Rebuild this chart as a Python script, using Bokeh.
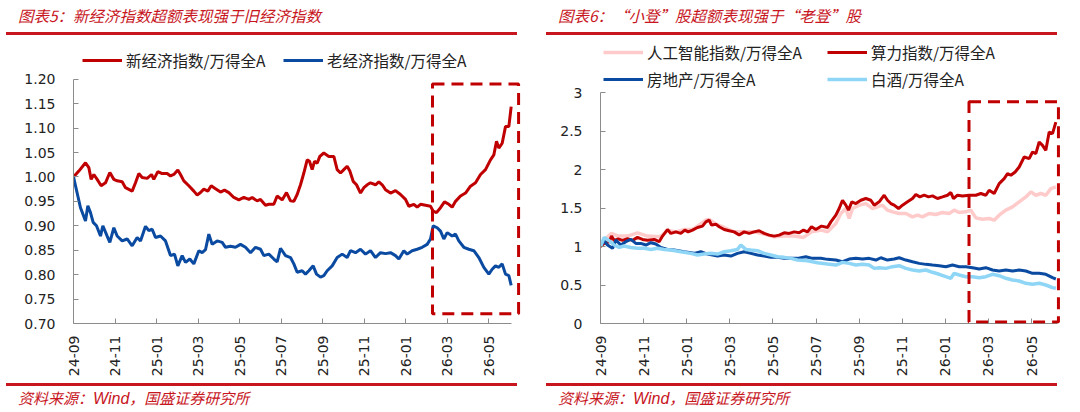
import math
from bokeh.plotting import figure
from bokeh.models import (Range1d, FixedTicker, NumeralTickFormatter, BoxAnnotation,
                          Legend, LegendItem, Div)
from bokeh.layouts import row, column
from bokeh.embed import file_html
from bokeh.resources import INLINE

# ---------------- data (x = months since 2024-09) ----------------
x_tick_pos = [0, 2, 4, 6, 8, 10, 12, 14, 16, 18, 20]
x_tick_labels = ["24-09", "24-11", "25-01", "25-03", "25-05", "25-07",
                 "25-09", "25-11", "26-01", "26-03", "26-05"]

title5 = "图表5：新经济指数超额表现强于旧经济指数"
title6 = "图表6：“小登”股超额表现强于“老登”股"
source_parts = ["资料来源：", "Wind", "，国盛证券研究所"]

# Chart 5
y5_ticks = [0.70, 0.75, 0.80, 0.85, 0.90, 0.95, 1.00, 1.05, 1.10, 1.15, 1.20]
new_econ_m = [0, 0.257, 0.578, 0.739, 0.851, 0.980, 1.140, 1.333, 1.542, 1.751,
              1.944, 2.104, 2.345, 2.506, 2.827, 2.988, 3.149, 3.309, 3.550, 3.759,
              3.871, 4.064, 4.273, 4.514, 4.675, 4.835, 5.028, 5.156, 5.317, 5.558,
              5.799, 5.960, 6.120, 6.281, 6.474, 6.635, 6.843, 7.084, 7.277, 7.486,
              7.727, 7.968, 8.209, 8.450, 8.610, 8.851, 9.012, 9.253, 9.414, 9.655,
              9.815, 10.056, 10.265, 10.458,
              10.619, 10.779, 10.940, 11.101, 11.261, 11.374, 11.502, 11.615, 11.743, 11.872,
              12.064, 12.305, 12.546, 12.707, 12.868, 13.028, 13.189, 13.317, 13.478, 13.639,
              13.831, 13.992, 14.153, 14.313, 14.554, 14.715, 14.876, 15.036, 15.277, 15.518,
              15.759, 16.000, 16.161, 16.402, 16.563, 16.723, 16.964, 17.205, 17.334, 17.494,
              17.687, 17.880, 18.088, 18.249, 18.410, 18.651, 18.892, 19.133, 19.374, 19.615,
              19.856, 20.096, 20.257, 20.386, 20.498, 20.659, 20.819, 20.980, 21.093]
new_econ_v = [1.000, 1.012, 1.029, 1.019, 0.995, 1.005, 0.995, 0.982, 0.988, 1.009,
              0.995, 0.992, 0.990, 0.978, 0.971, 0.988, 1.007, 0.999, 0.997, 1.005,
              0.995, 1.011, 1.007, 1.007, 1.002, 1.005, 1.014, 1.005, 0.992, 0.982,
              0.971, 0.963, 0.968, 0.975, 0.971, 0.982, 0.976, 0.969, 0.973, 0.968,
              0.958, 0.953, 0.958, 0.954, 0.958, 0.951, 0.954, 0.942, 0.944, 0.944,
              0.961, 0.953, 0.968, 0.951,
              0.950, 0.964, 0.984, 1.008, 1.035, 1.032, 1.015, 1.032, 1.028, 1.042,
              1.049, 1.042, 1.042, 1.015, 1.008, 1.015, 1.022, 1.012, 0.991, 0.984,
              0.967, 0.978, 0.984, 0.988, 0.984, 0.990, 0.984, 0.974, 0.967, 0.972,
              0.964, 0.954, 0.940, 0.944, 0.938, 0.944, 0.942, 0.940, 0.930, 0.927,
              0.937, 0.949, 0.944, 0.938, 0.950, 0.961, 0.967, 0.981, 0.988, 1.005,
              1.015, 1.035, 1.045, 1.073, 1.059, 1.069, 1.103, 1.103, 1.144]

old_econ_m = [0, 0.209, 0.337, 0.578, 0.691, 0.819, 0.948, 1.108, 1.301, 1.414,
              1.622, 1.751, 1.944, 2.104, 2.345, 2.586, 2.827, 3.068, 3.229, 3.470,
              3.630, 3.791, 3.952, 4.193, 4.434, 4.675, 4.867, 5.028, 5.237, 5.398,
              5.606, 5.799, 6.040, 6.201, 6.361, 6.522, 6.683, 6.924, 7.165, 7.325,
              7.566, 7.807, 8.048, 8.289, 8.530, 8.771, 9.012, 9.173, 9.414, 9.655,
              9.815, 9.976, 10.217, 10.458,
              10.619, 10.779, 11.020, 11.181, 11.342, 11.550, 11.711, 11.904, 12.064, 12.225,
              12.466, 12.707, 12.948, 13.189, 13.350, 13.590, 13.831, 14.072, 14.313, 14.554,
              14.795, 15.036, 15.277, 15.518, 15.679, 15.920, 16.080, 16.321, 16.562, 16.803,
              17.044, 17.205, 17.334, 17.526, 17.687, 17.848, 18.008, 18.249, 18.410, 18.570,
              18.811, 19.052, 19.293, 19.534, 19.775, 20.016, 20.177, 20.337, 20.498, 20.659,
              20.819, 20.980, 21.093]
old_econ_v = [1.000, 0.961, 0.937, 0.910, 0.941, 0.927, 0.907, 0.900, 0.879, 0.900,
              0.879, 0.866, 0.896, 0.879, 0.869, 0.873, 0.859, 0.876, 0.869, 0.899,
              0.890, 0.893, 0.876, 0.879, 0.869, 0.839, 0.842, 0.818, 0.839, 0.825,
              0.832, 0.822, 0.849, 0.845, 0.851, 0.883, 0.862, 0.869, 0.866, 0.856,
              0.858, 0.856, 0.862, 0.856, 0.845, 0.856, 0.852, 0.839, 0.842, 0.832,
              0.826, 0.854, 0.839, 0.835,
              0.822, 0.805, 0.808, 0.801, 0.808, 0.818, 0.801, 0.795, 0.798, 0.808,
              0.818, 0.835, 0.842, 0.835, 0.849, 0.845, 0.852, 0.842, 0.849, 0.835,
              0.845, 0.843, 0.845, 0.839, 0.832, 0.849, 0.842, 0.849, 0.852, 0.856,
              0.862, 0.873, 0.900, 0.896, 0.889, 0.873, 0.886, 0.879, 0.883, 0.869,
              0.856, 0.852, 0.849, 0.835, 0.815, 0.801, 0.811, 0.818, 0.815, 0.822,
              0.801, 0.798, 0.778]

# Chart 6
y6_ticks = [0, 0.5, 1, 1.5, 2, 2.5, 3]
ai_m = [0, 0.170, 0.511, 0.820, 1.253, 1.717, 2.181, 2.723, 2.877, 3.109,
        3.496, 3.914, 4.269, 4.501, 4.888, 5.043, 5.352, 5.739, 6.203, 6.667,
        7.131, 7.595, 8.059, 8.523, 8.987, 9.420, 9.792, 10.255, 10.534,
        10.921, 11.153, 11.385, 11.539, 11.694, 12.003, 12.313, 12.622, 12.854, 13.086,
        13.318, 13.550, 13.860, 14.169, 14.478, 14.710, 14.942, 15.252, 15.561, 15.870,
        16.180, 16.412, 16.644, 16.953, 17.185, 17.417, 17.727, 18.036, 18.268, 18.500,
        18.809, 19.119, 19.428, 19.738, 19.970, 20.201, 20.433, 20.665, 20.898, 21.130]
ai_v = [1.000, 1.083, 1.170, 1.135, 1.135, 1.178, 1.135, 1.127, 1.148, 1.213,
        1.190, 1.220, 1.220, 1.265, 1.343, 1.351, 1.290, 1.247, 1.190, 1.190,
        1.190, 1.161, 1.127, 1.135, 1.135, 1.118, 1.190, 1.213, 1.190,
        1.299, 1.428, 1.493, 1.364, 1.493, 1.537, 1.558, 1.493, 1.515, 1.537,
        1.472, 1.450, 1.428, 1.428, 1.385, 1.407, 1.385, 1.428, 1.415, 1.441,
        1.428, 1.472, 1.441, 1.450, 1.472, 1.372, 1.355, 1.364, 1.342, 1.407,
        1.472, 1.515, 1.580, 1.644, 1.709, 1.666, 1.688, 1.666, 1.752, 1.774]

compute_m = [0, 0.170, 0.402, 0.511, 0.634, 0.820, 1.021, 1.253, 1.485, 1.717,
             1.949, 2.181, 2.491, 2.723, 2.877, 3.109, 3.264, 3.496, 3.728, 3.914,
             4.068, 4.269, 4.501, 4.733, 4.888, 5.043, 5.151, 5.352, 5.507, 5.739,
             5.971, 6.203, 6.435, 6.667, 6.899, 7.131, 7.363, 7.595, 7.827, 8.059,
             8.291, 8.523, 8.755, 8.987, 9.219, 9.420, 9.606, 9.792, 9.992, 10.255,
             10.534,
             10.689, 10.921, 11.075, 11.230, 11.385, 11.508, 11.663, 11.849, 12.081, 12.313,
             12.545, 12.700, 12.932, 13.164, 13.318, 13.473, 13.628, 13.829, 14.014, 14.246,
             14.478, 14.633, 14.819, 15.020, 15.221, 15.406, 15.638, 15.870, 16.102, 16.257,
             16.381, 16.567, 16.799, 17.108, 17.417, 17.649, 17.881, 18.036, 18.268, 18.500,
             18.732, 18.887, 19.041, 19.242, 19.428, 19.660, 19.892, 20.047, 20.201, 20.356,
             20.511, 20.665, 20.820, 20.975, 21.130]
compute_v = [1.000, 1.040, 1.060, 1.135, 1.080, 1.100, 1.080, 1.100, 1.080, 1.118,
             1.092, 1.080, 1.092, 1.062, 1.135, 1.220, 1.170, 1.190, 1.170, 1.213,
             1.190, 1.213, 1.247, 1.265, 1.320, 1.343, 1.278, 1.290, 1.256, 1.220,
             1.204, 1.190, 1.148, 1.190, 1.170, 1.190, 1.204, 1.170, 1.148, 1.135,
             1.148, 1.178, 1.170, 1.190, 1.178, 1.213, 1.190, 1.256, 1.220, 1.265,
             1.247,
             1.320, 1.407, 1.493, 1.601, 1.537, 1.472, 1.580, 1.558, 1.601, 1.623,
             1.601, 1.537, 1.580, 1.666, 1.601, 1.558, 1.537, 1.493, 1.537, 1.580,
             1.623, 1.675, 1.644, 1.666, 1.644, 1.657, 1.623, 1.644, 1.666, 1.701,
             1.623, 1.666, 1.657, 1.666, 1.666, 1.688, 1.666, 1.731, 1.688, 1.817,
             1.882, 1.946, 1.925, 1.968, 2.033, 2.162, 2.141, 2.227, 2.206, 2.357,
             2.313, 2.249, 2.486, 2.465, 2.616]

realty_m = [0, 0.170, 0.325, 0.557, 0.712, 0.944, 1.176, 1.408, 1.640, 1.872,
            2.104, 2.336, 2.568, 2.800, 3.109, 3.419, 3.883, 4.347, 4.656, 4.965,
            5.429, 5.739, 6.048, 6.358, 6.667, 6.976, 7.286, 7.595, 7.904, 8.214,
            8.523, 8.832, 9.142, 9.528, 9.838, 10.225, 10.534,
            10.921, 11.230, 11.539, 11.849, 12.158, 12.468, 12.777, 13.009, 13.318, 13.628,
            13.860, 14.169, 14.478, 14.788, 15.097, 15.406, 15.716, 16.025, 16.334, 16.644,
            16.953, 17.263, 17.572, 17.881, 18.191, 18.500, 18.809, 19.119, 19.428, 19.738,
            20.047, 20.356, 20.665, 20.975, 21.130]
realty_v = [1.000, 1.075, 1.019, 0.976, 1.083, 1.019, 1.062, 1.092, 1.040, 1.040,
            1.019, 1.049, 1.032, 0.988, 0.962, 0.954, 0.932, 0.911, 0.932, 0.902,
            0.876, 0.889, 0.876, 0.911, 0.932, 0.911, 0.889, 0.876, 0.859, 0.859,
            0.846, 0.846, 0.846, 0.867, 0.846, 0.846, 0.833,
            0.824, 0.802, 0.837, 0.846, 0.837, 0.846, 0.824, 0.854, 0.824, 0.837,
            0.854, 0.824, 0.802, 0.781, 0.768, 0.759, 0.751, 0.738, 0.759, 0.738,
            0.738, 0.725, 0.708, 0.725, 0.695, 0.682, 0.695, 0.682, 0.695, 0.682,
            0.652, 0.652, 0.639, 0.595, 0.578]

liquor_m = [0, 0.170, 0.402, 0.634, 0.866, 1.098, 1.408, 1.717, 2.027, 2.336,
            2.645, 2.955, 3.264, 3.728, 4.192, 4.501, 4.811, 5.120, 5.429, 5.739,
            6.048, 6.358, 6.512, 6.744, 6.976, 7.286, 7.595, 7.904, 8.214, 8.523,
            8.832, 9.142, 9.606, 10.070, 10.534,
            10.921, 11.230, 11.539, 11.849, 12.158, 12.468, 12.700, 12.932, 13.241, 13.550,
            13.860, 14.169, 14.478, 14.788, 15.097, 15.406, 15.716, 16.025, 16.257, 16.412,
            16.644, 16.953, 17.263, 17.572, 17.881, 18.191, 18.500, 18.809, 19.119, 19.428,
            19.738, 20.047, 20.356, 20.665, 20.975, 21.130]
liquor_v = [1.000, 1.118, 1.075, 1.019, 0.988, 1.006, 0.988, 0.976, 0.976, 0.962,
            0.976, 0.962, 0.954, 0.932, 0.911, 0.889, 0.902, 0.911, 0.902, 0.932,
            0.945, 0.962, 1.019, 0.962, 0.954, 0.945, 0.911, 0.889, 0.867, 0.859,
            0.846, 0.824, 0.816, 0.790, 0.773,
            0.759, 0.794, 0.781, 0.759, 0.768, 0.759, 0.716, 0.725, 0.716, 0.738,
            0.751, 0.716, 0.695, 0.682, 0.695, 0.665, 0.639, 0.608, 0.587, 0.652,
            0.630, 0.608, 0.608, 0.595, 0.608, 0.639, 0.621, 0.587, 0.565, 0.552,
            0.522, 0.509, 0.522, 0.500, 0.466, 0.457]

# highlight boxes (data units)
box5 = dict(left=17.3, right=21.45, bottom=0.72, top=1.19)
box6 = dict(left=17.1, right=21.25, bottom=0.02, top=2.88)

# ---------------- styling ----------------
RED = "#C00000"
BLUE = "#0A4AA0"
PINK = "#FFCACA"
LBLUE = "#8FD6F6"
TITLE_RED = "#C8161E"
AXIS_GRAY = "#8C8C8C"
CJK = "Noto Sans CJK SC"
TICK_FONT = "DejaVu Sans"
FIG_H = 348          # figure height (between header and footer strips)
HEAD_H = 35
FOOT_H = 29


def base_fig(lb, rb, bb, x_end, y_lo, y_hi, axis_x_end, axis_y_hi):
    p = figure(width=540, height=FIG_H, output_backend="svg", toolbar_location=None,
               x_range=Range1d(0, x_end), y_range=Range1d(y_lo, y_hi),
               min_border_left=lb, min_border_right=rb, min_border_top=5,
               min_border_bottom=bb)
    p.outline_line_color = None
    p.background_fill_color = "white"
    p.border_fill_color = "white"
    p.xgrid.visible = False
    p.ygrid.visible = False
    for ax in (p.xaxis[0], p.yaxis[0]):
        ax.axis_line_color = AXIS_GRAY
        ax.major_tick_line_color = AXIS_GRAY
        ax.minor_tick_line_color = None
        ax.major_tick_in = 5
        ax.major_tick_out = 0
        ax.major_label_text_font = TICK_FONT
        ax.major_label_text_font_size = "14px"
        ax.major_label_text_color = "#222222"
    p.xaxis[0].bounds = (0, axis_x_end)
    p.yaxis[0].bounds = (y_lo, axis_y_hi)
    p.xaxis[0].ticker = FixedTicker(ticks=x_tick_pos)
    p.xaxis[0].major_label_overrides = {float(k): v for k, v in zip(x_tick_pos, x_tick_labels)}
    p.xaxis[0].major_label_orientation = math.pi / 2
    p.xaxis[0].major_label_standoff = 12
    p.yaxis[0].major_label_standoff = 18
    return p


def add_legend(p, renderer, label, vx, vy):
    lg = Legend(items=[LegendItem(label=label, renderers=[renderer])], location=(vx, vy),
                padding=0, margin=0, border_line_color=None, background_fill_alpha=0,
                glyph_width=40, glyph_height=20, label_height=20, label_standoff=4,
                label_text_font=CJK, label_text_font_size="15.5px", label_text_color="#222222")
    p.add_layout(lg, "center")


def header(title):
    html = (f'<div style="position:relative;width:540px;height:{HEAD_H}px;">'
            f'<div style="position:absolute;left:18px;top:5px;line-height:20px;white-space:nowrap;'
            f'font-family:\'{CJK}\';font-style:italic;font-size:15.5px;color:{TITLE_RED};">{title}</div>'
            f'<div style="position:absolute;left:6px;top:32px;width:511px;height:2.5px;'
            f'background:{TITLE_RED};"></div></div>')
    return Div(text=html, width=540, height=HEAD_H, margin=0)


def footer():
    a, b, c = source_parts
    html = (f'<div style="position:relative;width:540px;height:{FOOT_H}px;">'
            f'<div style="position:absolute;left:6px;top:0px;width:511px;height:2.5px;'
            f'background:{TITLE_RED};"></div>'
            f'<div style="position:absolute;left:18px;top:5px;line-height:20px;white-space:nowrap;'
            f'font-family:\'{CJK}\';font-style:italic;font-size:15px;color:{TITLE_RED};">'
            f'{a}<span style="font-family:\'Liberation Sans\';font-size:16px;">{b}</span>{c}</div></div>')
    return Div(text=html, width=540, height=FOOT_H, margin=0)


# ---------------- chart 5 ----------------
# frame: canvas x 73 .. 521 (20.75 px / month); canvas y 40 .. 325 (1.20 at y=79)
px5 = 20.75
p1 = base_fig(73, 19, 58, 448 / px5, 0.70, 1.20 + 39 * 0.5 / 246, 21.1, 1.20)
p1.yaxis[0].ticker = FixedTicker(ticks=y5_ticks)
p1.yaxis[0].formatter = NumeralTickFormatter(format="0.00")
r_new = p1.line(new_econ_m, new_econ_v, line_color=RED, line_width=3)
r_old = p1.line(old_econ_m, old_econ_v, line_color=BLUE, line_width=3)
p1.add_layout(BoxAnnotation(**box5, fill_color=None, line_color=RED, line_alpha=1,
                            line_width=3, line_dash="12 7"))
add_legend(p1, r_new, "新经济指数/万得全A", 82 - 73, 325 - 73)
add_legend(p1, r_old, "老经济指数/万得全A", 283 - 73, 325 - 73)

# ---------------- chart 6 ----------------
# frame: canvas x 600 .. 1070 (21.55 px / month); canvas y 40 .. 323 (3 at y=92)
px6 = 21.55
p2 = base_fig(60, 10, 60, 470 / px6, 0, 3 + 52 * 3 / 231, 21.2, 3)
p2.yaxis[0].ticker = FixedTicker(ticks=y6_ticks)
p2.yaxis[0].formatter = NumeralTickFormatter(format="0.[0]")
r_ai = p2.line(ai_m, ai_v, line_color=PINK, line_width=3.5)
r_cp = p2.line(compute_m, compute_v, line_color=RED, line_width=3)
r_re = p2.line(realty_m, realty_v, line_color=BLUE, line_width=3)
r_lq = p2.line(liquor_m, liquor_v, line_color=LBLUE, line_width=3.5)
p2.add_layout(BoxAnnotation(**box6, fill_color=None, line_color=RED, line_alpha=1,
                            line_width=3, line_dash="12 7"))
add_legend(p2, r_ai, "人工智能指数/万得全A", 3, 323 - 63)
add_legend(p2, r_cp, "算力指数/万得全A", 227, 323 - 63)
add_legend(p2, r_re, "房地产/万得全A", 3, 323 - 90)
add_legend(p2, r_lq, "白酒/万得全A", 227, 323 - 90)

layout = column(row(header(title5), header(title6)),
                row(p1, p2),
                row(footer(), footer()))
html = file_html(layout, INLINE)
open("out.html", "w").write(html)
